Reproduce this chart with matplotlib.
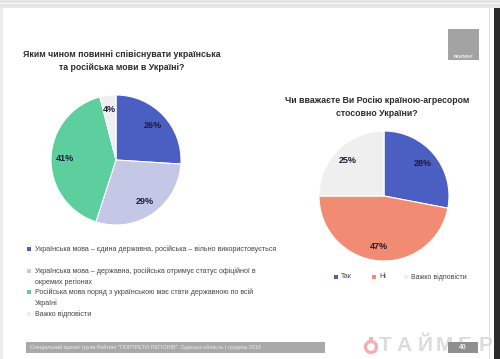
import matplotlib.pyplot as plt
from matplotlib.patches import Rectangle, Circle

plt.rcParams['font.family'] = ['Liberation Sans', 'DejaVu Sans']

# left chart: how should Ukrainian and Russian coexist
q1_title = "Яким чином повинні співіснувати українська\nта російська мови в Україні?"
q1_labels = [
    "Українська мова – єдина державна, російська – вільно використовується",
    "Українська мова – державна, російська отримує статус офіційної в\nокремих регіонах",
    "Російська мова поряд з українською має стати державною по всій\nУкраїні",
    "Важко відповісти",
]
q1_values = [26, 29, 41, 4]
q1_colors = ['#4a5fc1', '#c4c8e6', '#5dcf9f', '#efefef']

# right chart: is Russia an aggressor country
q2_title = "Чи вважаєте Ви Росію країною-агресором\nстосовно України?"
q2_labels = ["Так", "Ні", "Важко відповісти"]
q2_values = [28, 47, 25]
q2_colors = ['#4a5fc1', '#f28b73', '#efefef']

footer = 'Спеціальний проект групи Рейтинг "ПОРТРЕТИ РЕГІОНІВ". Одеська область | грудень 2018'

W, H = 500, 359
fig = plt.figure(figsize=(W / 100, H / 100), dpi=100)
fig.patch.set_facecolor('white')

# background layer in pixel coords
bg = fig.add_axes([0, 0, 1, 1])
bg.set_xlim(0, W)
bg.set_ylim(H, 0)
bg.axis('off')
bg.add_patch(Rectangle((0, 0), W, 8, color='#e6e6e6', lw=0))
bg.add_patch(Rectangle((0, 2.5), W, 1.2, color='#f8f8f8', lw=0))
bg.add_patch(Rectangle((0, 8), 2.5, H, color='#ececec', lw=0))
bg.add_patch(Rectangle((489, 8), 1, H, color='#dddddd', lw=0))
bg.add_patch(Rectangle((494, 8), 6, H, color='#2b2b2b', lw=0))

# rating logo
bg.add_patch(Rectangle((448, 29), 31, 31, color='#a3a3a3', lw=0))
bg.text(463.5, 56.5, "РЕЙТИНГ", color='white', fontsize=3.2, fontweight='bold',
        ha='center', va='center')

# titles
bg.text(122, 61, q1_title, fontsize=6.3, fontweight='bold', color='#2a2a2a',
        ha='center', va='center', linespacing=1.65)
bg.text(377, 107, q2_title, fontsize=6.3, fontweight='bold', color='#2a2a2a',
        ha='center', va='center', linespacing=1.5)

# left legend
leg_y = [249, 271, 292, 314]
for y, lab, c in zip(leg_y, q1_labels, q1_colors):
    bg.add_patch(Rectangle((27, y - 2), 4, 4, color=c, lw=0))
    bg.text(35, y - 3.5, lab, fontsize=5.1, color='#444444', ha='left', va='top',
            linespacing=1.55)

# right legend
leg_x = [334, 372, 404]
for x, lab, c in zip(leg_x, q2_labels, q2_colors):
    bg.add_patch(Rectangle((x, 275), 4, 4, color=c, lw=0))
    bg.text(x + 7, 277, lab, fontsize=5, color='#444444', ha='left', va='center')

# footer
bg.add_patch(Rectangle((26, 342), 299, 11, color='#a9a9a9', lw=0))
bg.text(30, 347.5, footer, fontsize=3.9, color='#eeeeee', ha='left', va='center')

# watermark
bg.add_patch(Circle((371, 347), 5.5, fill=False, ec='#f2b0b0', lw=2.4))
bg.add_patch(Rectangle((369, 337), 4, 3, color='#f2b0b0', lw=0))
for ch, x in zip("ТАЙМЕР", [385, 404, 425, 444, 465, 486]):
    bg.text(x, 345.5, ch, fontsize=15, fontweight='bold', color='#dcdcdc',
            ha='center', va='center')
bg.add_patch(Rectangle((448, 342), 30, 11, color='#8f8f8f', lw=0, zorder=3))
bg.text(463, 347.5, "40", fontsize=5, color='#f0f0f0', fontweight='bold',
        ha='center', va='center', zorder=4)


def draw_pie(cx, cy, r, values, colors):
    ax = fig.add_axes([(cx - r) / W, 1 - (cy + r) / H, 2 * r / W, 2 * r / H])
    ax.pie(values, colors=colors, startangle=90, counterclock=False,
           autopct='%d%%', pctdistance=0.78,
           wedgeprops=dict(edgecolor='white', linewidth=0.8),
           textprops=dict(fontsize=6.5, fontweight='bold', color='#1c1c3c'))
    ax.set_xlim(-1.0, 1.0)
    ax.set_ylim(-1.0, 1.0)
    ax.set_aspect('auto')
    return ax


draw_pie(116, 160, 65, q1_values, q1_colors)
draw_pie(384, 196, 65, q2_values, q2_colors)

fig.savefig('out.png', dpi=100)
